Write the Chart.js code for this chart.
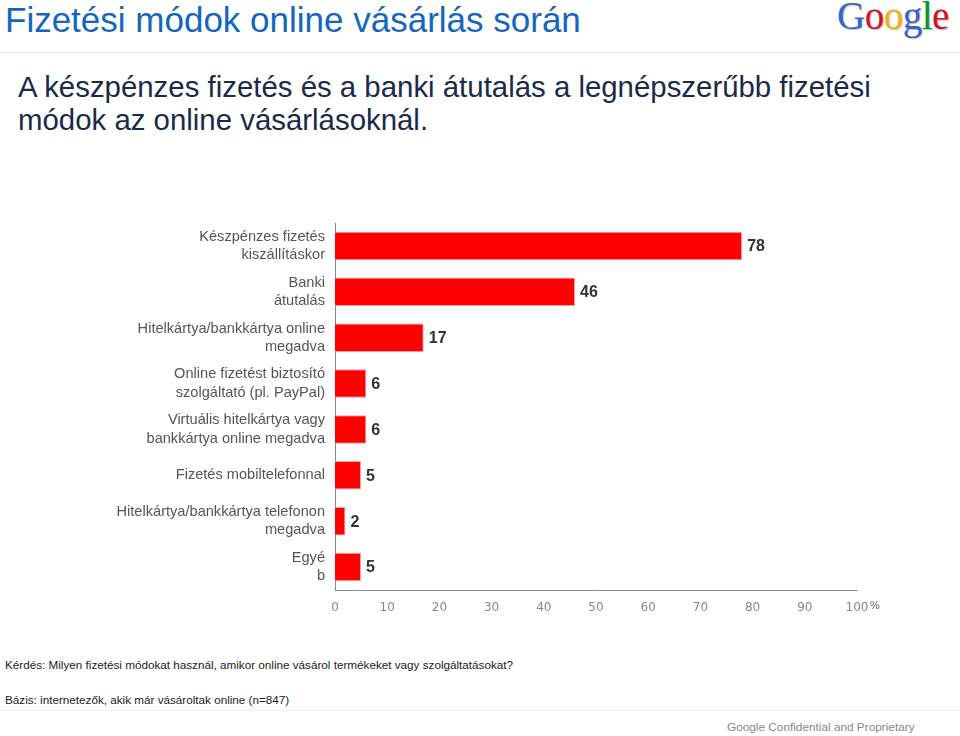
<!DOCTYPE html>
<html>
<head>
<meta charset="utf-8">
<script src="https://cdn.jsdelivr.net/npm/chart.js@4"></script>
<style>
  body { margin: 0; width: 960px; height: 736px; background: #fff; position: relative; overflow: hidden; font-family: Arial, "Liberation Sans", sans-serif; }
  .abs { position: absolute; white-space: nowrap; }
  #title { left: 5px; top: 0px; font-size: 35px; line-height: 40px; color: #1466bd; }
  #logo { left: 837px; top: -7px; font-family: "Liberation Serif", serif; font-size: 39px; letter-spacing: -0.5px; text-shadow: 1px 1px 1px #bbb; }
  #rule1 { left: 0; top: 52px; width: 960px; height: 1px; background: #e6e6e6; }
  #subtitle { left: 18px; top: 70px; font-size: 29.4px; line-height: 33px; color: #1c2a4a; }
  #chartBox { left: 0; top: 214px; width: 960px; height: 420px; }
  #pct { left: 870px; top: 599px; font-size: 11px; color: #666; }
  #q { left: 5px; top: 658px; font-size: 11.7px; color: #222; }
  #base { left: 5px; top: 693px; font-size: 11.7px; color: #222; }
  #rule2 { left: 0; top: 710px; width: 960px; height: 1px; background: #ededed; }
  #conf { left: 727px; top: 720px; font-size: 11.8px; color: #888; }
</style>
</head>
<body>
<div class="abs" id="title">Fizetési módok online vásárlás során</div>
<div class="abs" id="logo"><span style="color:#3366cc">G</span><span style="color:#d50f25">o</span><span style="color:#eeb211">o</span><span style="color:#3366cc">g</span><span style="color:#009925">l</span><span style="color:#d50f25">e</span></div>
<div class="abs" id="rule1"></div>
<div class="abs" id="subtitle">A készpénzes fizetés és a banki átutalás a legnépszerűbb fizetési<br>módok az online vásárlásoknál.</div>
<div class="abs" id="chartBox"><canvas id="chart" width="960" height="420"></canvas></div>
<div class="abs" id="pct">%</div>
<div class="abs" id="q">Kérdés: Milyen fizetési módokat használ, amikor online vásárol termékeket vagy szolgáltatásokat?</div>
<div class="abs" id="base">Bázis: internetezők, akik már vásároltak online (n=847)</div>
<div class="abs" id="rule2"></div>
<div class="abs" id="conf">Google Confidential and Proprietary</div>
<script>
// --- Data ---
const categories = [
  ["Készpénzes fizetés", "kiszállításkor"],
  ["Banki", "átutalás"],
  ["Hitelkártya/bankkártya online", "megadva"],
  ["Online fizetést biztosító", "szolgáltató (pl. PayPal)"],
  ["Virtuális hitelkártya vagy", "bankkártya online megadva"],
  ["Fizetés mobiltelefonnal"],
  ["Hitelkártya/bankkártya telefonon", "megadva"],
  ["Egyé", "b"],
];
const shares = [78, 46, 17, 6, 6, 5, 2, 5];
const xTicks = [0, 10, 20, 30, 40, 50, 60, 70, 80, 90, 100];

// value labels at the end of each bar
const valueLabels = {
  id: "valueLabels",
  afterDatasetsDraw(chart) {
    const ctx = chart.ctx;
    const meta = chart.getDatasetMeta(0);
    ctx.save();
    ctx.font = "bold 16px Arial, 'Liberation Sans', sans-serif";
    ctx.fillStyle = "#333";
    ctx.textAlign = "left";
    ctx.textBaseline = "middle";
    meta.data.forEach((bar, i) => {
      ctx.fillText(String(shares[i]), bar.x + 5, bar.y + 1);
    });
    ctx.restore();
  },
};

new Chart(document.getElementById("chart"), {
  type: "bar",
  data: {
    labels: categories,
    datasets: [
      {
        data: shares,
        backgroundColor: "#ff0000",
        borderColor: "#f4a3a3",
        borderWidth: 1,
        categoryPercentage: 1,
        barPercentage: 0.62,
      },
    ],
  },
  options: {
    indexAxis: "y",
    responsive: false,
    animation: false,
    layout: { padding: { top: 9, right: 103, left: 0, bottom: 0 } },
    plugins: { legend: { display: false }, tooltip: { enabled: false } },
    scales: {
      x: {
        min: 0,
        max: 100,
        afterBuildTicks(axis) {
          axis.ticks = xTicks.map((v) => ({ value: v }));
        },
        afterFit(axis) {
          axis.height = 44;
          axis.paddingLeft = 0;
          axis.paddingRight = 0;
        },
        grid: { display: false, drawTicks: false },
        border: { display: true, color: "#888", width: 1 },
        ticks: {
          padding: 11,
          color: "#888",
          font: { size: 12, family: "'DejaVu Sans', sans-serif" },
        },
      },
      y: {
        afterFit(axis) {
          axis.width = 335;
          axis.paddingTop = 0;
          axis.paddingBottom = 0;
        },
        grid: { display: false, drawTicks: false },
        border: { display: true, color: "#888", width: 1 },
        ticks: {
          padding: 10,
          color: "#555",
          font: { size: 14.6, family: "Arial, 'Liberation Sans', sans-serif", lineHeight: 1.25 },
        },
      },
    },
  },
  plugins: [valueLabels],
});
</script>
</body>
</html>
